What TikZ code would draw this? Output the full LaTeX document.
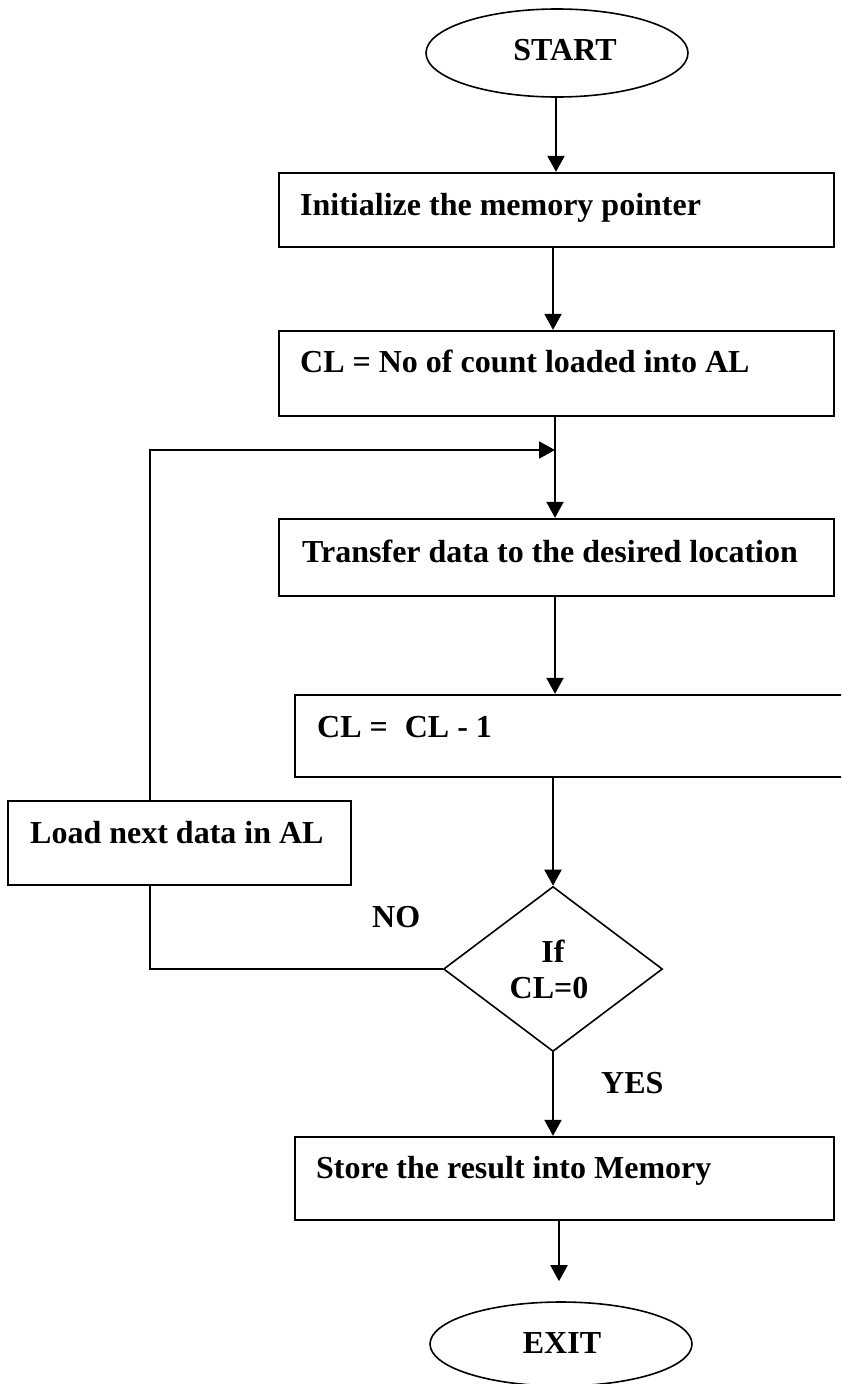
\documentclass[tikz,border=0pt]{standalone}
\usepackage{fontspec}
\setmainfont{Liberation Serif}
\usetikzlibrary{shapes.geometric,arrows.meta}
\tikzset{
  stepbox/.style={draw, rectangle, line width=2.3pt, inner sep=0pt},
  term/.style={draw, ellipse, line width=1.6pt, inner sep=0pt},
  decide/.style={draw, diamond, line width=1.6pt, inner sep=0pt},
  txt/.style={inner sep=0pt, font=\bfseries\fontsize{32}{36}\selectfont},
  ltxt/.style={txt, anchor=base west},
  ctxt/.style={txt, anchor=base},
  flow/.style={line width=2pt, -{Triangle[width=17pt,length=16pt]}},
  link/.style={line width=2pt}
}
\begin{document}
\begin{tikzpicture}[x=1pt,y=-1pt]
  \path[use as bounding box] (0,0) rectangle (841,1384);
  \clip (0,0) rectangle (841,1384);

  % terminals
  \node[term, minimum width=262pt, minimum height=88pt] (start) at (557,53) {};
  \node[ctxt] (startT) at (565,60) {START};
  \node[term, minimum width=262pt, minimum height=84pt] (exit) at (561,1344) {};
  \node[ctxt] (exitT) at (562,1353) {EXIT};

  % process boxes
  \node[stepbox, minimum width=555pt, minimum height=74pt] (b1) at (556.5,210) {};
  \node[ltxt] (b1T) at (300,215) {Initialize the memory pointer};

  \node[stepbox, minimum width=555pt, minimum height=85pt] (b2) at (556.5,373.5) {};
  \node[ltxt] (b2T) at (300,372) {CL = No of count loaded into AL};

  \node[stepbox, minimum width=555pt, minimum height=77pt] (b3) at (556.5,557.5) {};
  \node[ltxt] (b3T) at (302,562) {Transfer data to the desired location};

  \node[stepbox, minimum width=560pt, minimum height=82pt] (b4) at (575,736) {};
  \node[ltxt] (b4T) at (317,737) {CL =\hspace{17pt}CL - 1};

  \node[stepbox, minimum width=343pt, minimum height=84pt] (load) at (179.5,843) {};
  \node[ltxt] (loadT) at (30,843) {Load next data in AL};

  \node[decide, minimum width=219pt, minimum height=165pt] (dec) at (553,969) {};
  \node[ctxt] (decA) at (553,962) {If};
  \node[ctxt] (decB) at (549,998) {CL=0};

  \node[stepbox, minimum width=539pt, minimum height=83pt] (store) at (564.5,1178.5) {};
  \node[ltxt] (storeT) at (316,1178) {Store the result into Memory};

  % branch labels
  \node[ltxt] (noT) at (372,927) {NO};
  \node[ltxt] (yesT) at (601,1093) {YES};

  % x positions of the vertical connectors
  \coordinate (xa) at (556,0);
  \coordinate (xb) at (553,0);
  \coordinate (xc) at (559,0);
  % helper points of the loop-back path
  \coordinate (loopx) at (150,0);
  \coordinate (join) at (555,450);

  % main flow
  \draw[flow] (start.south -| xa) -- (b1.north -| xa);
  \draw[flow] (b1.south -| xb) -- (b2.north -| xb);
  \draw[link] (b2.south -| join) -- (join);
  \draw[flow] (join) -- (b3.north -| join);
  \draw[flow] (b3.south -| join) -- (b4.north -| join);
  \draw[flow] (b4.south -| dec.north) -- (dec.north);
  \draw[flow] (dec.south) -- (store.north -| dec.south);
  \draw[flow, shorten >=20pt] (store.south -| xc) -- (exit.north -| xc);

  % loop back on NO
  \draw[link] (dec.west) -| (loopx |- load.south);
  \draw[flow] (loopx |- load.north) |- (join);
\end{tikzpicture}
\end{document}
